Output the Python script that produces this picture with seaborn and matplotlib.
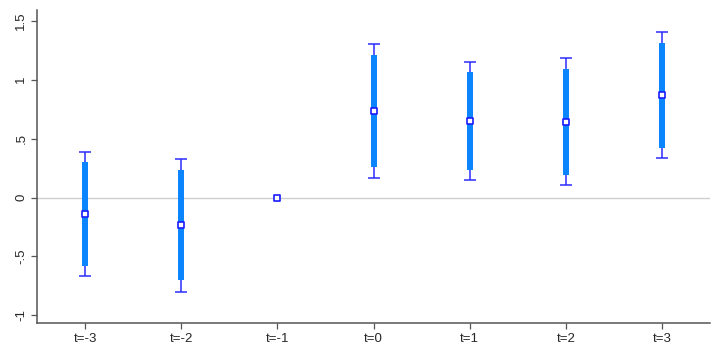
import numpy as np
import pandas as pd
import matplotlib
matplotlib.use("Agg")
import matplotlib.pyplot as plt
import seaborn as sns

# event-study coefficients with 90% (thick) and 95% (thin) intervals
periods = ["t=-3", "t=-2", "t=-1", "t=0", "t=1", "t=2", "t=3"]
coef = [-0.14, -0.236, 0.0, 0.733, 0.648, 0.64, 0.866]
ci90_lo = [-0.578, -0.70, 0.0, 0.261, 0.233, 0.19, 0.422]
ci90_hi = [0.298, 0.236, 0.0, 1.208, 1.061, 1.09, 1.312]
ci95_lo = [-0.665, -0.80, 0.0, 0.168, 0.148, 0.11, 0.335]
ci95_hi = [0.388, 0.329, 0.0, 1.30, 1.148, 1.18, 1.40]
ytick_vals = [-1, -0.5, 0, 0.5, 1, 1.5]
ytick_labels = ["-1", "-.5", "0", ".5", "1", "1.5"]

sns.set_style("white")
plt.rcParams["font.family"] = ["Liberation Sans", "DejaVu Sans"]

df = pd.DataFrame({"period": periods, "coef": coef,
                   "lo90": ci90_lo, "hi90": ci90_hi,
                   "lo95": ci95_lo, "hi95": ci95_hi})
df["x"] = np.arange(len(df))

fig = plt.figure(figsize=(7.2, 3.6), dpi=100)
ax = fig.add_axes([37 / 720, 1 - 323 / 360, (710 - 37) / 720, (323 - 10) / 360])

ax.axhline(0, color="#cfcfcf", lw=1.0, zorder=0)

# 95% interval with caps (thin) — skip the reference period
ci = df[df["hi95"] != df["lo95"]]
ax.errorbar(ci["x"], ci["coef"],
            yerr=[ci["coef"] - ci["lo95"], ci["hi95"] - ci["coef"]],
            fmt="none", ecolor="#2b2bff", elinewidth=1.1, capsize=4.5,
            capthick=1.1, zorder=2)
# 90% interval (thick bar)
ax.vlines(ci["x"], ci["lo90"], ci["hi90"], color="#0a84ff", lw=4.3, zorder=3)

sns.scatterplot(data=df, x="x", y="coef", marker="s", s=22,
                facecolor="white", edgecolor="#1a1aff", linewidth=1.2,
                zorder=4, ax=ax)

ax.set_xlim(-0.5, 6.5)
ax.set_ylim(-1.064, 1.59)
ax.set_xticks(df["x"])
ax.set_xticklabels(periods, fontsize=9.5)
ax.set_yticks(ytick_vals)
ax.set_yticklabels(ytick_labels, rotation=90, va="center", fontsize=9.5)
ax.set_xlabel("")
ax.set_ylabel("")

for side in ["top", "right"]:
    ax.spines[side].set_visible(False)
for side in ["left", "bottom"]:
    ax.spines[side].set_color("#555555")
    ax.spines[side].set_linewidth(1.1)
ax.tick_params(axis="both", direction="out", length=4, width=0.9,
               color="#555555", left=True, bottom=True, pad=3)

fig.savefig("out.png", dpi=100)
plt.close()
